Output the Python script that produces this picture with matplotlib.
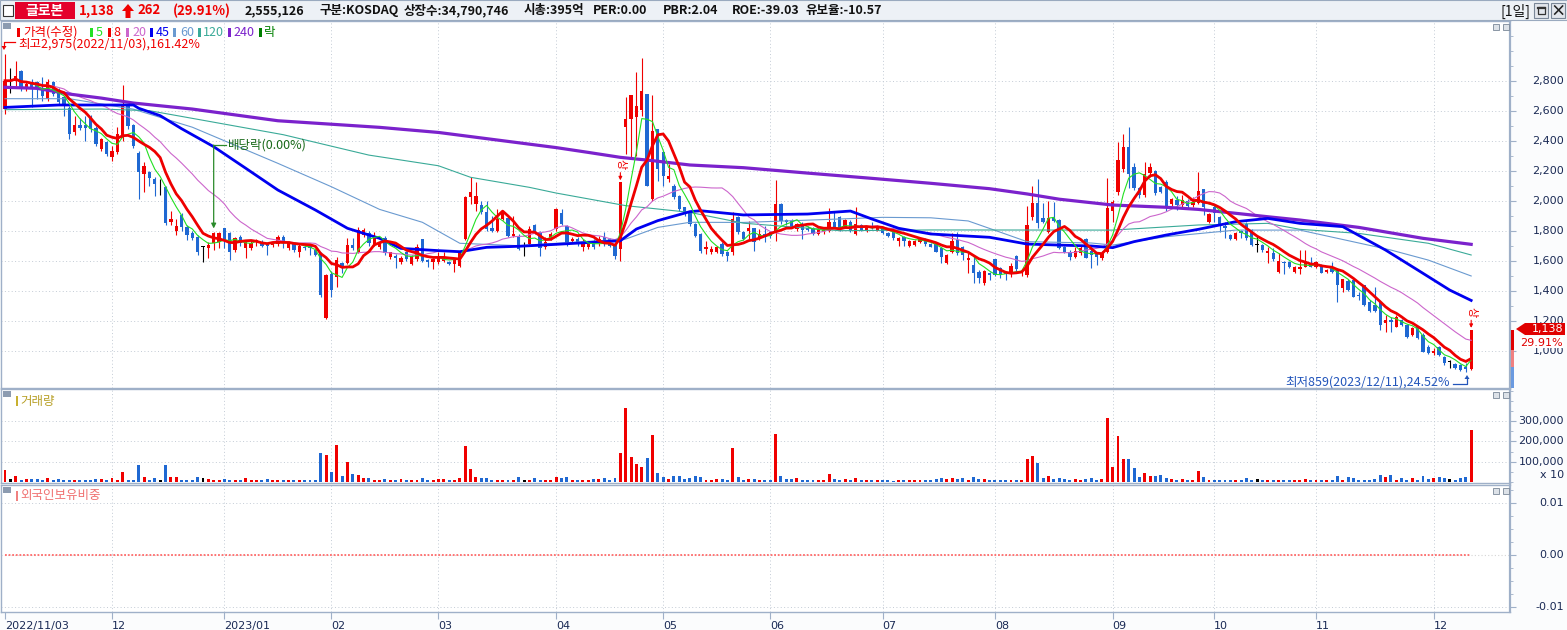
#!/usr/bin/env python3
# -*- coding: utf-8 -*-
"""글로본 일봉 차트(2022/11/03 ~ 2023/12/12) 재현: 가격+이평, 거래량, 외국인보유비중."""
import numpy as np
import pandas as pd
import matplotlib
matplotlib.use("Agg")
import matplotlib.pyplot as plt
from matplotlib.patches import Rectangle, Polygon
from matplotlib.transforms import blended_transform_factory as blend
from matplotlib.ticker import MultipleLocator

KR = ["Noto Sans CJK KR", "DejaVu Sans"]
NUM = ["DejaVu Sans"]
plt.rcParams.update({"font.family": KR, "axes.unicode_minus": False})

# ── 팔레트 ──
RED, BLUE, BLACK = "#F00000", "#1F68D2", "#000000"
C_MA5, C_MA8, C_MA20 = "#22E022", "#EE0000", "#CC66CC"
C_MA45, C_MA60, C_MA120, C_MA240 = "#0000F0", "#6A9AD0", "#3AAA98", "#7B22CC"
AXC, GRID, FRAME = "#1A2A55", "#C3CBD5", "#9FB0C8"

# ── 일봉 OHLC (월별 한 줄) ──
opens = [
    2611, 2800, 2800, 2867, 2744, 2789, 2789, 2744, 2678, 2789, 2740, 2689, 2616, 2456, 2504, 2504, 2556, 2482, 2344, 2393,
    2289, 2322, 2416, 2629, 2504, 2318, 2178, 2193, 2144, 2122, 2089, 1856, 1800, 1904, 1827, 1782, 1760, 1693, 1682, 1716, 1727,
    1816, 1782, 1671, 1760, 1682, 1682, 1727, 1727, 1711, 1704, 1711, 1760, 1682, 1711, 1660, 1693, 1700, 1671, 1649, 1215,
    1511, 1493, 1582, 1582, 1704, 1660, 1771, 1782, 1711, 1690, 1749, 1622, 1633, 1589, 1656, 1578, 1611, 1744, 1604, 1589,
    1589, 1600, 1589, 1578, 1562, 1744, 2022, 1978, 1971, 1922, 1816, 1800, 1878, 1884, 1767, 1767, 1700, 1711, 1838, 1789, 1689, 1744,
    1811, 1918, 1833, 1733, 1744, 1689, 1689, 1722, 1718, 1755, 1744, 1711, 1678, 2489, 2544, 2556, 2607, 2711, 2011, 2478,
    2322, 2145, 2100, 2033, 1955, 1922, 1844, 1778, 1678, 1656, 1656, 1711, 1656, 1656, 1889, 1789, 1800, 1816, 1744, 1778,
    1789, 1800, 1978, 1871, 1867, 1811, 1833, 1816, 1816, 1778, 1789, 1800, 1856, 1889, 1822, 1860, 1778, 1838, 1800, 1833, 1800,
    1811, 1784, 1807, 1729, 1756, 1700, 1704, 1722, 1744, 1711, 1711, 1682, 1587, 1660, 1738, 1689, 1604, 1571, 1527, 1449, 1516,
    1609, 1549, 1527, 1511, 1631, 1516, 1505, 1893, 1982, 1882, 1793, 1889, 1871, 1689, 1660, 1627, 1649, 1742, 1667, 1649, 1616,
    1660, 1933, 2060, 2209, 2360, 2227, 2082, 2038, 2182, 2198, 2093, 2127, 1978, 2004, 1971, 2000, 1971, 1987, 2076, 1860,
    1960, 1893, 1831, 1771, 1742, 1800, 1844, 1804, 1704, 1704, 1649, 1653, 1527, 1593, 1593, 1527, 1542, 1560, 1582,
    1560, 1571, 1527, 1560, 1542, 1416, 1464, 1471, 1371, 1438, 1327, 1304, 1327, 1182, 1204, 1160, 1204, 1171, 1104, 1160, 1104, 1027,
    982, 1027, 960, 927, 911, 905, 893, 876,
]
highs = [
    2975, 2882, 2933, 2870, 2790, 2811, 2800, 2822, 2811, 2800, 2750, 2700, 2630, 2567, 2550, 2567, 2570, 2500, 2420, 2400,
    2367, 2489, 2771, 2644, 2510, 2330, 2260, 2200, 2160, 2144, 2100, 1933, 1880, 1916, 1840, 1800, 1770, 1700, 1727, 1790, 1790,
    1820, 1790, 1760, 1770, 1740, 1730, 1745, 1740, 1720, 1730, 1771, 1770, 1730, 1720, 1710, 1705, 1710, 1680, 1660, 1510,
    1530, 1627, 1593, 1749, 1749, 1827, 1816, 1800, 1790, 1730, 1767, 1660, 1644, 1630, 1665, 1640, 1711, 1744, 1610, 1620,
    1656, 1656, 1600, 1610, 1660, 2030, 2155, 2122, 2000, 1998, 1900, 1944, 1933, 1890, 1900, 1775, 1722, 1833, 1845, 1795, 1756, 1789,
    1950, 1944, 1840, 1760, 1755, 1744, 1720, 1744, 1767, 1789, 1750, 1720, 2122, 2689, 2704, 2856, 2950, 2711, 2704, 2480,
    2330, 2244, 2110, 2040, 1960, 1930, 1850, 1785, 1733, 1700, 1700, 1722, 1667, 1922, 1900, 1800, 1867, 1820, 1811, 1833,
    1800, 2140, 1985, 1880, 1875, 1850, 1856, 1830, 1825, 1815, 1815, 1949, 1927, 1895, 1880, 1870, 1960, 1845, 1830, 1856, 1840,
    1820, 1790, 1815, 1760, 1762, 1740, 1740, 1750, 1750, 1720, 1720, 1690, 1645, 1782, 1793, 1695, 1649, 1627, 1535, 1540, 1527,
    1612, 1555, 1530, 1582, 1638, 1535, 1965, 2098, 2142, 1982, 2000, 1990, 1875, 1695, 1670, 1690, 1695, 1750, 1675, 1655, 1665,
    2149, 2004, 2393, 2444, 2489, 2250, 2090, 2260, 2253, 2205, 2100, 2135, 2020, 2030, 2038, 2010, 2027, 2193, 2080, 1920,
    1975, 1900, 1860, 1780, 1790, 1805, 1860, 1810, 1769, 1710, 1693, 1687, 1653, 1600, 1600, 1565, 1669, 1671, 1622,
    1600, 1580, 1545, 1593, 1550, 1480, 1480, 1475, 1393, 1440, 1335, 1427, 1330, 1238, 1227, 1238, 1210, 1175, 1155, 1165, 1116, 1035,
    1016, 1030, 965, 938, 915, 910, 916, 1138,
]
lows = [
    2580, 2718, 2767, 2733, 2730, 2622, 2678, 2667, 2667, 2700, 2640, 2567, 2411, 2440, 2470, 2400, 2460, 2367, 2333, 2300,
    2267, 2310, 2400, 2478, 2350, 2011, 2056, 2100, 2033, 2038, 1840, 1840, 1771, 1800, 1740, 1740, 1640, 1589, 1620, 1671, 1682,
    1682, 1604, 1660, 1700, 1616, 1670, 1700, 1690, 1638, 1690, 1700, 1682, 1670, 1660, 1627, 1670, 1640, 1630, 1360, 1209,
    1360, 1427, 1516, 1575, 1670, 1650, 1760, 1700, 1700, 1680, 1640, 1610, 1553, 1580, 1600, 1570, 1600, 1590, 1556, 1544,
    1580, 1590, 1570, 1522, 1555, 1740, 1978, 1933, 1910, 1800, 1790, 1790, 1870, 1760, 1755, 1670, 1633, 1700, 1780, 1633, 1680, 1735,
    1800, 1840, 1700, 1720, 1700, 1667, 1680, 1680, 1700, 1700, 1690, 1611, 1600, 2311, 2278, 2300, 2567, 2100, 2000, 2133,
    2100, 2122, 2010, 1930, 1900, 1830, 1760, 1650, 1644, 1644, 1650, 1633, 1600, 1640, 1780, 1735, 1744, 1667, 1740, 1722,
    1750, 1733, 1844, 1840, 1815, 1800, 1744, 1800, 1770, 1770, 1780, 1790, 1815, 1800, 1815, 1790, 1770, 1795, 1790, 1811, 1795,
    1775, 1760, 1740, 1696, 1696, 1690, 1695, 1715, 1700, 1690, 1655, 1587, 1580, 1653, 1638, 1604, 1516, 1449, 1449, 1440, 1471,
    1500, 1482, 1471, 1493, 1520, 1495, 1493, 1870, 1816, 1850, 1785, 1860, 1675, 1650, 1604, 1615, 1640, 1616, 1549, 1571, 1605,
    1650, 1860, 2040, 2190, 2082, 2070, 2016, 2025, 2160, 2040, 2050, 1929, 1965, 1940, 1960, 1950, 1960, 1975, 1904, 1850,
    1860, 1793, 1749, 1735, 1735, 1753, 1740, 1700, 1660, 1660, 1582, 1600, 1520, 1511, 1550, 1518, 1511, 1555, 1555,
    1550, 1515, 1520, 1520, 1327, 1389, 1400, 1355, 1338, 1300, 1260, 1260, 1138, 1127, 1127, 1155, 1165, 1082, 1100, 1075, 990, 975,
    971, 965, 905, 882, 875, 866, 859, 871,
]
closes = [
    2800, 2800, 2833, 2744, 2778, 2744, 2744, 2700, 2789, 2711, 2656, 2644, 2444, 2504, 2487, 2482, 2478, 2378, 2411, 2311,
    2333, 2444, 2629, 2500, 2367, 2189, 2233, 2149, 2111, 2122, 1851, 1878, 1833, 1827, 1771, 1749, 1660, 1693, 1704, 1782, 1782,
    1738, 1660, 1749, 1720, 1727, 1720, 1738, 1698, 1698, 1720, 1760, 1716, 1720, 1671, 1698, 1682, 1682, 1638, 1371, 1504,
    1404, 1604, 1560, 1704, 1682, 1804, 1804, 1716, 1767, 1722, 1651, 1656, 1620, 1620, 1611, 1633, 1689, 1600, 1589, 1611,
    1622, 1622, 1578, 1607, 1656, 2022, 2056, 2033, 1922, 1811, 1800, 1878, 1922, 1767, 1778, 1678, 1700, 1811, 1789, 1682, 1722, 1778,
    1944, 1844, 1711, 1744, 1711, 1711, 1711, 1689, 1744, 1722, 1700, 1633, 2122, 2544, 2704, 2633, 2733, 2100, 2467, 2211,
    2167, 2167, 2022, 1944, 1911, 1844, 1767, 1667, 1689, 1678, 1689, 1644, 1633, 1878, 1789, 1744, 1816, 1722, 1778, 1756,
    1762, 1978, 1867, 1856, 1822, 1844, 1807, 1807, 1778, 1811, 1807, 1856, 1822, 1811, 1871, 1800, 1844, 1800, 1822, 1822, 1833,
    1784, 1767, 1749, 1751, 1733, 1733, 1733, 1744, 1711, 1693, 1660, 1627, 1638, 1733, 1649, 1638, 1615, 1520, 1482, 1533, 1504,
    1505, 1511, 1511, 1564, 1542, 1527, 1838, 1982, 1849, 1860, 1887, 1867, 1682, 1660, 1627, 1667, 1687, 1616, 1638, 1627, 1653,
    1949, 1993, 2271, 2360, 2178, 2082, 2038, 2178, 2227, 2049, 2060, 1956, 2009, 1971, 2004, 1964, 1993, 2067, 1956, 1911,
    1916, 1831, 1816, 1742, 1782, 1782, 1749, 1704, 1704, 1671, 1664, 1609, 1600, 1582, 1560, 1560, 1560, 1593, 1560,
    1593, 1520, 1538, 1527, 1438, 1476, 1404, 1360, 1364, 1304, 1267, 1267, 1171, 1204, 1193, 1227, 1171, 1093, 1149, 1082, 993, 982,
    1000, 971, 916, 927, 882, 871, 876, 1138,
]
# 거래량 (차트 축 단위 x10, 천 단위)
volumes_k = [
    61, 16, 31, 12, 16, 16, 16, 12, 21, 12, 16, 12, 12, 10, 10, 10, 10, 16, 16, 10,
    18, 10, 51, 10, 10, 84, 26, 10, 21, 12, 84, 23, 26, 10, 8, 10, 26, 21, 15, 8, 8,
    15, 8, 8, 12, 21, 8, 8, 10, 16, 8, 12, 8, 10, 8, 10, 8, 8, 8, 143, 133,
    51, 183, 28, 100, 41, 35, 20, 20, 10, 8, 13, 8, 10, 15, 8, 8, 8, 20, 8, 8,
    13, 13, 8, 12, 20, 176, 64, 25, 21, 20, 8, 10, 8, 12, 8, 25, 8, 10, 20, 12, 10, 10,
    26, 20, 25, 10, 12, 8, 8, 13, 15, 18, 12, 20, 143, 366, 124, 89, 76, 120, 232, 44,
    26, 13, 30, 30, 16, 20, 28, 23, 10, 8, 15, 16, 12, 168, 26, 8, 16, 16, 8, 8,
    8, 237, 31, 16, 15, 20, 12, 12, 8, 12, 8, 40, 16, 10, 16, 10, 20, 12, 8, 8, 8,
    8, 8, 7, 10, 8, 8, 8, 8, 12, 12, 16, 20, 13, 21, 13, 20, 12, 23, 13, 15, 10,
    10, 10, 8, 10, 10, 10, 114, 127, 94, 18, 30, 16, 20, 16, 12, 16, 10, 13, 18, 10, 13,
    316, 74, 229, 114, 114, 69, 26, 44, 28, 31, 35, 18, 16, 12, 15, 10, 12, 53, 26, 12,
    10, 8, 12, 10, 10, 8, 20, 10, 13, 10, 8, 10, 8, 10, 12, 8, 10, 16, 8,
    10, 8, 8, 10, 31, 10, 23, 18, 8, 10, 12, 16, 33, 25, 33, 10, 20, 12, 21, 12, 31, 16,
    20, 23, 18, 16, 12, 20, 23, 254,
]
foreign_ratio = [0.0] * len(closes)  # 외국인보유비중: 전 구간 0.00

# 장기 이평 (차트에서 읽은 값: 봉 인덱스, 가격)
ma45_idx = [0, 10, 24, 25, 29, 33, 35, 39, 45, 51, 58, 64, 70, 74, 81, 85, 90, 96, 103, 115, 118, 122, 128, 130,
            138, 150, 158, 162, 167, 173, 184, 191, 197, 203, 207, 211, 217, 223, 230, 236, 242, 250, 258, 264, 270, 274]
ma45_val = [2622, 2638, 2638, 2616, 2567, 2480, 2440, 2360, 2216, 2071, 1938, 1816, 1749, 1682, 1667, 1660, 1689, 1696,
            1709, 1733, 1811, 1867, 1927, 1933, 1905, 1911, 1931, 1878, 1816, 1778, 1756, 1711, 1704, 1698, 1687, 1727,
            1771, 1809, 1860, 1882, 1849, 1827, 1671, 1538, 1404, 1335]
ma60_idx = [0, 12, 24, 35, 51, 61, 70, 78, 85, 96, 103, 116, 122, 128, 138, 156, 164, 173, 180, 186, 191, 203, 207,
            217, 230, 242, 259, 266, 274]
ma60_val = [2680, 2680, 2610, 2490, 2249, 2093, 1942, 1856, 1716, 1700, 1716, 1744, 1822, 1856, 1855, 1878, 1889, 1886,
            1865, 1790, 1727, 1718, 1704, 1760, 1804, 1804, 1671, 1604, 1498]
ma120_idx = [0, 18, 27, 35, 52, 68, 81, 87, 98, 103, 116, 128, 138, 156, 173, 207, 223, 236, 242, 253, 266, 274]
ma120_val = [2607, 2611, 2600, 2549, 2440, 2304, 2233, 2156, 2089, 2051, 1967, 1922, 1850, 1800, 1805, 1804, 1838,
             1849, 1809, 1782, 1716, 1638]
ma240_idx = [0, 6, 12, 18, 24, 35, 51, 70, 81, 103, 109, 115, 121, 128, 138, 150, 162, 173, 184, 191, 197, 207, 217,
             223, 230, 236, 242, 253, 265, 274]
ma240_val = [2756, 2749, 2711, 2684, 2651, 2611, 2533, 2489, 2455, 2354, 2322, 2289, 2267, 2238, 2220, 2184, 2149, 2116,
             2080, 2045, 2010, 1971, 1956, 1942, 1916, 1893, 1871, 1822, 1749, 1709]

month_idx = [0, 20, 41, 61, 81, 103, 123, 143, 164, 185, 207, 226, 245, 267]
month_lbl = ["2022/11/03", "12", "2023/01", "02", "03", "04", "05", "06", "07", "08", "09", "10", "11", "12"]
price_ticks = list(range(1000, 2801, 200))
vol_ticks_k = [100, 200, 300]
limit_up = [115, 274]      # 상한가 봉
ex_div = 39                # 배당락 봉

N = len(closes)
for name, arr in (("opens", opens), ("highs", highs), ("lows", lows), ("volumes", volumes_k)):
    if len(arr) != N:
        raise SystemExit(f"{name}: {len(arr)} != {N}")

# ── 픽셀 레이아웃 ──
W, H = 1567, 630
PX0, PXD = 5.0, 5.351          # 봉 i 의 x 픽셀 = PX0 + PXD*i
AX_L, AX_R = 1, 1510

fig = plt.figure(figsize=(W / 100, H / 100), dpi=100, facecolor="#FBFCFD")


def px_axes(y0, y1):
    ax = fig.add_axes([AX_L / W, 1 - y1 / H, (AX_R - AX_L) / W, (y1 - y0) / H])
    ax.set_xlim((AX_L - PX0) / PXD, (AX_R - PX0) / PXD)
    ax.set_facecolor("white")
    for s in ax.spines.values():
        s.set_color(FRAME)
        s.set_linewidth(1.0)
    ax.spines["right"].set_linewidth(1.6)
    ax.tick_params(axis="x", bottom=False, labelbottom=False)
    ax.yaxis.set_ticks_position("right")
    ax.tick_params(axis="y", which="both", direction="out", color=FRAME,
                   labelright=False, labelleft=False)
    ax.tick_params(axis="y", which="major", length=4)
    ax.tick_params(axis="y", which="minor", length=2)
    return ax


def dotted_grid(ax, ys):
    for y in ys:
        ax.axhline(y, color=GRID, lw=0.7, ls=(0, (1, 2.5)), zorder=0)
    for m in month_idx[1:]:
        ax.axvline(m, color=GRID, lw=0.7, ls=(0, (1, 2.5)), zorder=0)


def right_labels(ax, vals, texts, size=8):
    tr = blend(ax.transAxes, ax.transData)
    xr = 1 + (1564 - AX_R) / (AX_R - AX_L)
    for v, t in zip(vals, texts):
        ax.text(xr, v, t, transform=tr, ha="right", va="center", fontsize=size,
                family=NUM, color=AXC, clip_on=False)


o, h, l, c = (np.array(a, dtype=float) for a in (opens, highs, lows, closes))
idx = np.arange(N)
colors = np.where(c > o, RED, np.where(c < o, BLUE, BLACK))

# ── 가격 패널 ──
ax_p = px_axes(21, 388)
ax_p.set_ylim(2800 - (388 - 80.7) * 6.667, 2800 + (80.7 - 21) * 6.667)
dotted_grid(ax_p, price_ticks)
ax_p.set_yticks(price_ticks)
ax_p.yaxis.set_minor_locator(MultipleLocator(100))
right_labels(ax_p, price_ticks, [f"{p:,}" for p in price_ticks])

ax_p.vlines(idx, l, h, colors=colors, lw=0.8, zorder=2)
ax_p.bar(idx, np.maximum(np.abs(c - o), 5), bottom=np.minimum(o, c), width=0.62,
         color=colors, lw=0, zorder=3)

cs = pd.Series(c)
ax_p.plot(ma60_idx, ma60_val, color=C_MA60, lw=0.8, zorder=4)
ax_p.plot(ma120_idx, ma120_val, color=C_MA120, lw=0.8, zorder=4)
ax_p.plot(idx, cs.rolling(20, min_periods=1).mean(), color=C_MA20, lw=0.8, zorder=4)
ax_p.plot(ma240_idx, ma240_val, color=C_MA240, lw=2.3, zorder=5)
ax_p.plot(ma45_idx, ma45_val, color=C_MA45, lw=2.0, zorder=5)
ax_p.plot(idx, cs.rolling(5, min_periods=1).mean(), color=C_MA5, lw=0.8, zorder=5)
ax_p.plot(idx, cs.rolling(8, min_periods=1).mean(), color=C_MA8, lw=2.0, zorder=6)

# 상한가 표시
for i in limit_up:
    ax_p.annotate("상", xy=(i, h[i]), xytext=(0, 13), textcoords="offset points",
                  ha="center", va="center", rotation=-90, fontsize=8, color=RED, zorder=7)
    ax_p.annotate("", xy=(i, h[i]), xytext=(0, 7), textcoords="offset points",
                  arrowprops=dict(arrowstyle="-|>", color=RED, lw=0.8, mutation_scale=5,
                                  shrinkA=0, shrinkB=1.5), zorder=7)

# 배당락
DG = "#2A8A2A"
y_top = 2800 - (145 - 80.7) * 6.667
ax_p.annotate("", xy=(ex_div, h[ex_div] + 25), xytext=(ex_div, y_top),
              arrowprops=dict(arrowstyle="-|>", color=DG, lw=0.9, mutation_scale=7,
                              shrinkA=0, shrinkB=0), zorder=7)
ax_p.plot([ex_div, ex_div + 2.3], [y_top, y_top], color=DG, lw=0.9, zorder=7)
ax_p.text(ex_div + 2.7, y_top, "배당락(0.00%)", ha="left", va="center", fontsize=9,
          color="#1A6A1A", zorder=7)

# ── 거래량 패널 ──
ax_v = px_axes(389, 483)
VS = 100 / 20.3  # 천 / 픽셀
ax_v.set_ylim(-(483 - 482) * VS, (482 - 389) * VS)
dotted_grid(ax_v, vol_ticks_k)
ax_v.set_yticks(vol_ticks_k)
ax_v.yaxis.set_minor_locator(MultipleLocator(50))
ax_v.bar(idx, volumes_k, width=0.55, color=colors, lw=0, zorder=3)
right_labels(ax_v, vol_ticks_k, [f"{v * 1000:,}" for v in vol_ticks_k])
right_labels(ax_v, [(482 - 475) * VS], ["x 10"])

# ── 외국인보유비중 패널 ──
ax_f = px_axes(485, 612)
FS = 1 / 5170
ax_f.set_ylim(-(612 - 555) * FS, (555 - 485) * FS)
dotted_grid(ax_f, [0.01, -0.01])
ax_f.axhline(0, color="#D5D5D5", lw=0.8, ls=(0, (1, 2)), zorder=1)
ax_f.plot(idx, foreign_ratio, color="#FF6A6A", lw=1.3, ls=(0, (1, 1)), zorder=3)
ax_f.set_yticks([-0.01, 0.0, 0.01])
ax_f.yaxis.set_minor_locator(MultipleLocator(0.0025))
right_labels(ax_f, [0.01, 0.0, -0.01], ["0.01", "0.00", "-0.01"])
ax_f.set_xticks(month_idx)
ax_f.set_xticklabels(month_lbl, ha="left", fontsize=8, family=NUM, color=AXC)
ax_f.tick_params(axis="x", bottom=True, labelbottom=True, length=5, pad=1.5,
                 color=FRAME, direction="out")

# ── 픽셀 좌표 오버레이 ──
ov = fig.add_axes([0, 0, 1, 1], zorder=10)
ov.set_xlim(0, W)
ov.set_ylim(H, 0)
ov.axis("off")
ov.patch.set_visible(False)

# 헤더
HFS = 9
ov.add_patch(Rectangle((0, 0), W, 20, fc="#EDF1F6", ec="#9AAABF", lw=0.8))
ov.add_patch(Rectangle((3, 5), 10, 11, fc="white", ec="#333333", lw=0.8))
ov.add_patch(Rectangle((15, 2), 60, 17, fc="#E4002B", ec="none"))
ov.text(45, 10.5, "글로본", color="white", fontsize=10, fontweight="bold", ha="center", va="center")
ov.text(79, 10.5, "1,138", color=RED, fontsize=9.5, fontweight="bold", ha="left", va="center")
ov.add_patch(Polygon([(122, 11), (128, 4), (134, 11), (130.5, 11), (130.5, 18), (125.5, 18), (125.5, 11)],
                     closed=True, fc=RED, ec="none"))
ov.text(137, 10.5, "262", color=RED, fontsize=9.5, fontweight="bold", ha="left", va="center")
ov.text(173, 10.5, "(29.91%)", color=RED, fontsize=9.5, fontweight="bold", ha="left", va="center")
for x, t in [(245, "2,555,126"), (319, "구분:KOSDAQ"), (404, "상장수:34,790,746"), (524, "시총:395억"),
             (593, "PER:0.00"), (663, "PBR:2.04"), (732, "ROE:-39.03"), (806, "유보율:-10.57")]:
    ov.text(x, 10.5, t, color="#111111", fontsize=HFS, fontweight="bold", ha="left", va="center")
ov.text(1516, 11, "[1일]", color="#111111", fontsize=10, ha="center", va="center")
for bx in (1534, 1551):
    ov.add_patch(Rectangle((bx, 3), 14, 15, fc="#E2E6EC", ec="#7A8798", lw=0.8))
ov.add_patch(Rectangle((1537.5, 7), 7, 7, fc="none", ec="#333333", lw=0.9))
ov.plot([1537.5, 1544.5], [7.8, 7.8], color="#333333", lw=1.6)
ov.text(1558, 10.5, "×", color="#222222", fontsize=11, fontweight="bold", ha="center", va="center")

# 패널 아이콘
for y in (23, 391, 487):
    ov.add_patch(Rectangle((3, y), 8, 6, fc="#8C9BB0", ec="none"))
    for bx in (1493, 1503):
        ov.add_patch(Rectangle((bx, y + 1), 6, 6, fc="#DDE2E8", ec="#7A8798", lw=0.6))

# 범례
legend = [(18, RED, "가격(수정)", 23), (91, C_MA5, "5", 96), (109, C_MA8, "8", 113),
          (127, C_MA20, "20", 132), (151, C_MA45, "45", 156), (174, C_MA60, "60", 180),
          (199, C_MA120, "120", 203), (229, C_MA240, "240", 233), (260, "#008000", "락", 264)]
for bx, col, txt, tx in legend:
    ov.add_patch(Rectangle((bx - 1, 28), 2.5, 9, fc=col, ec="none"))
    ov.text(tx, 32.5, txt, color=col, fontsize=9, ha="left", va="center")

# 최고/최저
ov.plot([15, 4, 4], [42, 42, 46], color=RED, lw=0.9)
ov.add_patch(Polygon([(1.5, 46), (6.5, 46), (4, 50)], closed=True, fc=RED, ec="none"))
ov.text(18, 44, "최고2,975(2022/11/03),161.42%", color=RED, fontsize=9, ha="left", va="center")
BL = "#2255BB"
ov.text(1450, 382, "최저859(2023/12/11),24.52%", color=BL, fontsize=9, ha="right", va="center")
ov.plot([1453, 1467, 1467], [384, 384, 379], color=BL, lw=0.9)
ov.add_patch(Polygon([(1464.5, 379), (1469.5, 379), (1467, 375)], closed=True, fc=BL, ec="none"))

# 현재가 표시
ov.add_patch(Polygon([(1516, 329), (1525, 323), (1525, 335)], closed=True, fc="#E00000", ec="none"))
ov.add_patch(Rectangle((1525, 323), 40, 12, fc="#E00000", ec="none"))
ov.text(1563, 329, "1,138", color="white", fontsize=8, family=NUM, ha="right", va="center")
ov.text(1563, 342.5, "29.91%", color="#E00000", fontsize=8, family=NUM, ha="right", va="center",
        bbox=dict(fc="white", ec="none", pad=0.3))
ov.add_patch(Rectangle((1511, 330), 3, 20, fc="#E00000", ec="none"))
ov.add_patch(Rectangle((1511, 350), 3, 17, fc="#F08080", ec="none"))
ov.add_patch(Rectangle((1511, 367), 3, 21, fc="#6A9AE0", ec="none"))

# 보조지표 라벨
ov.add_patch(Rectangle((15.5, 396), 2.5, 10, fc="#C8B030", ec="none"))
ov.text(20, 401, "거래량", color="#B8A028", fontsize=9, ha="left", va="center")
ov.add_patch(Rectangle((15.5, 491), 2.5, 10, fc="#F08080", ec="none"))
ov.text(20, 496, "외국인보유비중", color="#F07070", fontsize=9, ha="left", va="center")

fig.savefig("out.png", dpi=100, facecolor=fig.get_facecolor())
